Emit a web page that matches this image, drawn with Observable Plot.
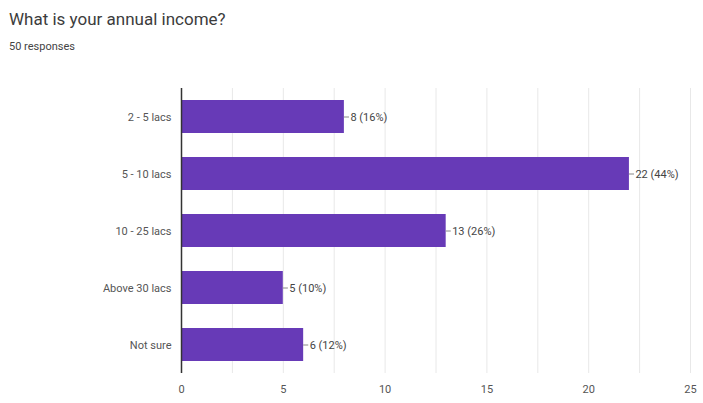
<!DOCTYPE html>
<html><head><meta charset="utf-8">
<script src="https://cdn.jsdelivr.net/npm/d3@7"></script>
<script src="https://cdn.jsdelivr.net/npm/@observablehq/plot@0.6"></script>
<style>
body{margin:0;background:#fff;font-family:Roboto,"Liberation Sans",sans-serif;}
#title{position:absolute;left:9px;top:9px;font-size:17px;color:#3c3c3c;}
#sub{position:absolute;left:9px;top:40px;font-size:11px;color:#444;}
#chart{position:absolute;left:0;top:62px;}
</style></head>
<body>
<div id="title">What is your annual income?</div>
<div id="sub">50 responses</div>
<div id="chart"></div>
<script>
const categories = ["2 - 5 lacs", "5 - 10 lacs", "10 - 25 lacs", "Above 30 lacs", "Not sure"];
const counts = [8, 22, 13, 5, 6];
const percents = [16, 44, 26, 10, 12];
const xTicks = [0, 5, 10, 15, 20, 25];
const gridTicks = [2.5, 5, 7.5, 10, 12.5, 15, 17.5, 20, 22.5, 25];

const data = categories.map((c, i) => ({cat: c, value: counts[i], pct: percents[i]}));

const chart = Plot.plot({
  width: 703,
  height: 341,
  marginLeft: 181,
  marginRight: 13,
  marginTop: 26,
  marginBottom: 30,
  style: {fontFamily: "Roboto, sans-serif", fontSize: "11px", color: "#555", background: "#fff"},
  x: {domain: [0, 25], ticks: xTicks, label: null, tickSize: 0, tickPadding: 12},
  y: {domain: categories, label: null, tickSize: 0, tickPadding: 10, paddingInner: 0.42, paddingOuter: 0.21},
  marks: [
    Plot.ruleX(gridTicks, {stroke: "#e8e8e8", strokeWidth: 1}),
    Plot.barX(data, {y: "cat", x: "value", fill: "#673ab7"}),
    Plot.ruleX([0], {stroke: "#333", strokeWidth: 1.5}),
    Plot.ruleY(data, {y: "cat", x1: "value", x2: d => d.value + 0.25, stroke: "#888", strokeWidth: 1}),
    Plot.text(data, {y: "cat", x: "value", dx: 6, text: d => `${d.value} (${d.pct}%)`, textAnchor: "start", fill: "#444", fontSize: 11})
  ]
});
document.getElementById("chart").appendChild(chart);
</script>
</body></html>
